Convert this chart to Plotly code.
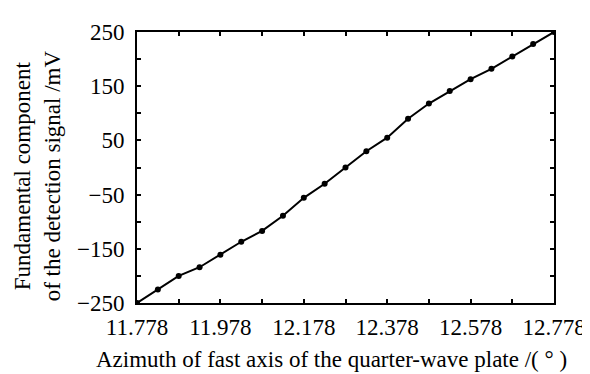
import plotly.graph_objects as go

azimuth = [11.778, 11.828, 11.878, 11.928, 11.978, 12.028, 12.078, 12.128, 12.178, 12.228,
           12.278, 12.328, 12.378, 12.428, 12.478, 12.528, 12.578, 12.628, 12.678, 12.728, 12.778]
signal_mv = [-250, -225, -200, -184, -161, -137, -117, -89, -56, -30,
             0, 30, 55, 90, 118, 141, 163, 182, 205, 228, 250]

x_tickvals = [11.778, 11.878, 11.978, 12.078, 12.178, 12.278, 12.378, 12.478, 12.578, 12.678, 12.778]
x_ticktext = ["11.778", "", "11.978", "", "12.178", "", "12.378", "", "12.578", "", "12.778"]
y_tickvals = [-250, -200, -150, -100, -50, 0, 50, 100, 150, 200, 250]
y_ticktext = ["\u2212250", "", "\u2212150", "", "\u221250", "", "50", "", "150", "", "250"]

FONT = "Liberation Serif"

fig = go.Figure(go.Scatter(
    x=azimuth, y=signal_mv, mode="lines+markers",
    line=dict(color="black", width=2),
    marker=dict(color="black", size=6),
))

axis_common = dict(
    showgrid=False, zeroline=False, showline=True, linecolor="black", linewidth=2,
    mirror="ticks", ticks="inside", ticklen=4, tickwidth=1.5, tickcolor="black",
    tickfont=dict(family=FONT, size=23, color="black"),
)

fig.update_xaxes(range=[11.778, 12.778], tickvals=x_tickvals, ticktext=x_ticktext,
                 ticklabelstandoff=2, **axis_common)
fig.update_yaxes(range=[-250, 250], tickvals=y_tickvals, ticktext=y_ticktext,
                 ticklabelstandoff=6, **axis_common)

fig.update_layout(
    width=590, height=374,
    margin=dict(l=129, r=41, t=13, b=79),
    plot_bgcolor="white", paper_bgcolor="white",
    showlegend=False,
    font=dict(family=FONT, color="black"),
    annotations=[
        dict(text="Azimuth of fast axis of the quarter-wave plate /( \u00b0 )",
             xref="paper", yref="paper", x=(325-129)/420, y=-(354-295)/282, xanchor="center", yanchor="middle",
             showarrow=False, borderpad=0, font=dict(family=FONT, size=23, color="black")),
        dict(text="Fundamental component<br>of the detection signal /mV",
             xref="paper", yref="paper", x=(29-129)/420, y=0.47, xanchor="center", yanchor="middle",
             textangle=-90, showarrow=False, font=dict(family=FONT, size=23, color="black")),
    ],
)

fig.write_html("out.html")
